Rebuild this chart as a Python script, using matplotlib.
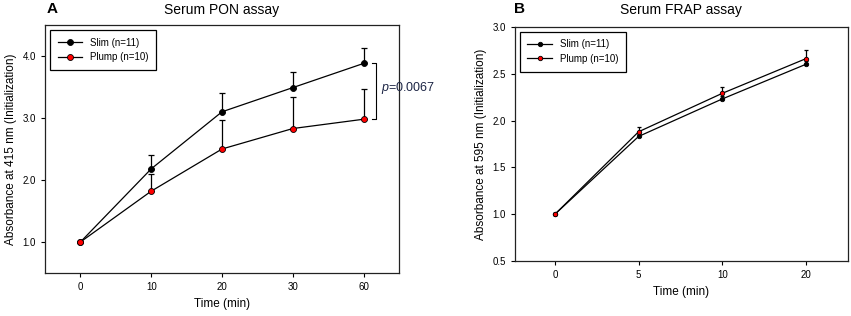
"""
Serum PON / FRAP assay time courses, slim vs plump (two panels).
"""

import matplotlib.pyplot as plt

plt.rcParams["font.family"] = ["Liberation Sans", "DejaVu Sans"]
plt.rcParams["mathtext.fontset"] = "custom"
plt.rcParams["mathtext.it"] = "Liberation Sans:italic"
plt.rcParams["mathtext.rm"] = "Liberation Sans"

# panel A: PON
pon_times = ["0", "10", "20", "30", "60"]
pon_slim = [1.0, 2.18, 3.10, 3.49, 3.88]
pon_slim_err = [0.0, 0.22, 0.30, 0.25, 0.25]
pon_plump = [1.0, 1.82, 2.50, 2.83, 2.98]
pon_plump_err = [0.0, 0.28, 0.47, 0.51, 0.48]
pon_yticks = [1.0, 2.0, 3.0, 4.0]
p_text = "0.0067"

# panel B: FRAP
frap_times = ["0", "5", "10", "20"]
frap_slim = [1.0, 1.83, 2.23, 2.60]
frap_slim_err = [0.0, 0.03, 0.03, 0.04]
frap_plump = [1.0, 1.88, 2.29, 2.66]
frap_plump_err = [0.0, 0.05, 0.07, 0.09]
frap_yticks = [0.5, 1.0, 1.5, 2.0, 2.5, 3.0]

labels = ["Slim (n=11)", "Plump (n=10)"]


def draw(ax, times, series, ms, cap):
    x = list(range(len(times)))
    for (y, err, fc), lab in zip(series, labels):
        # upward-only error bars, then the line on top
        ax.errorbar(x, y, yerr=[[0] * len(err), err], fmt="none",
                    ecolor="black", elinewidth=0.9, capsize=cap, capthick=0.9)
        ax.plot(x, y, color="black", lw=0.9, marker="o", ms=ms, mfc=fc,
                mec="black", mew=0.6, label=lab)
    ax.set_xticks(x)
    ax.set_xticklabels(times)
    ax.set_xlabel("Time (min)", fontsize=8.5)
    ax.tick_params(labelsize=7, length=3, width=0.8, direction="out")
    for s in ax.spines.values():
        s.set_linewidth(0.9)
        s.set_color("#222222")
    leg = ax.legend(loc="upper left", fontsize=7, handlelength=2.5,
                    fancybox=False, edgecolor="black", framealpha=1,
                    borderaxespad=0.5, borderpad=0.8, labelspacing=0.45)
    leg.get_frame().set_linewidth(0.9)


fig = plt.figure(figsize=(8.51, 3.16), dpi=100)

# A
axA = fig.add_axes([0.0529, 0.136, 0.416, 0.785])
draw(axA, pon_times,
     [(pon_slim, pon_slim_err, "black"), (pon_plump, pon_plump_err, "red")],
     ms=4.3, cap=2)
axA.set_xlim(-0.5, 4.5)
axA.set_ylim(0.5, 4.5)
axA.set_yticks(pon_yticks)
axA.set_yticklabels([f"{v:.1f}" for v in pon_yticks])
axA.set_ylabel("Absorbance at 415 nm (Initialization)", fontsize=8.5)
axA.set_title("Serum PON assay", fontsize=10, pad=8)

# significance bracket between the last points
xb = len(pon_times) - 1 + 0.17
top, bot = pon_slim[-1], pon_plump[-1]
axA.plot([xb - 0.05, xb, xb, xb - 0.05], [top, top, bot, bot],
         color="black", lw=0.8, clip_on=False)
axA.text(xb + 0.08, (top + bot) / 2 + 0.05, r"$p$=" + p_text, fontsize=9,
         color="#1c2545", va="center", ha="left", clip_on=False)

# B
axB = fig.add_axes([0.605, 0.174, 0.391, 0.741])
draw(axB, frap_times,
     [(frap_slim, frap_slim_err, "black"), (frap_plump, frap_plump_err, "red")],
     ms=3.2, cap=1.5)
axB.set_xlim(-0.48, 3.5)
axB.set_ylim(0.5, 3.0)
axB.set_yticks(frap_yticks)
axB.set_yticklabels([f"{v:.1f}" for v in frap_yticks])
axB.set_ylabel("Absorbance at 595 nm (Initialization)", fontsize=8.5)
axB.set_title("Serum FRAP assay", fontsize=10, pad=9)

fig.text(0.055, 0.97, "A", fontsize=11, fontweight="bold", va="center", ha="left")
fig.text(0.604, 0.97, "B", fontsize=11, fontweight="bold", va="center", ha="left")

fig.savefig("out.png", dpi=100)
